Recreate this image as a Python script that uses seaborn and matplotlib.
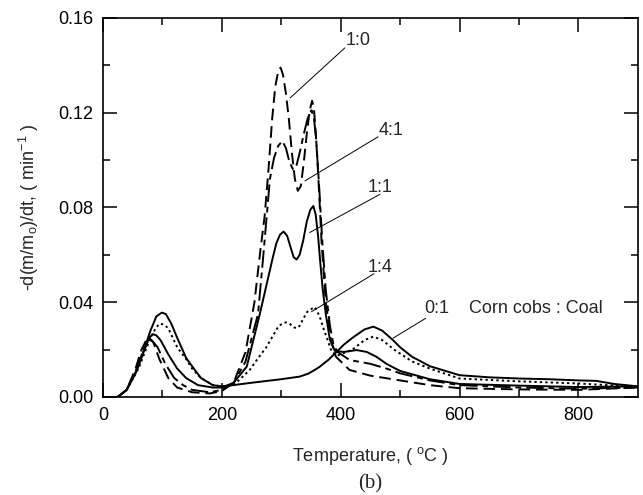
import numpy as np
import pandas as pd
import matplotlib
matplotlib.use("Agg")
import matplotlib.pyplot as plt
import seaborn as sns

# ---- data ----
t_10 = [25, 40, 55, 65, 76, 85, 95, 110, 125, 150, 180, 200, 220, 240, 255, 265, 272,
        278, 285, 290, 295, 299, 303, 308, 313, 318, 323, 328, 333, 338, 343, 348,
        352, 355, 358, 362, 368, 375, 383, 392, 415, 450, 500, 550, 600, 700, 800, 900]
v_10 = [0.0, 0.003, 0.012, 0.020, 0.0255, 0.023, 0.016, 0.008, 0.004, 0.002, 0.0015,
        0.0025, 0.006, 0.019, 0.040, 0.062, 0.076, 0.094, 0.118, 0.131, 0.1375, 0.139,
        0.136, 0.128, 0.117, 0.103, 0.092, 0.087, 0.089, 0.099, 0.111, 0.121, 0.125,
        0.122, 0.112, 0.095, 0.065, 0.040, 0.025, 0.017, 0.0114, 0.009, 0.007, 0.005,
        0.0037, 0.0032, 0.003, 0.004]

t_41 = [25, 40, 55, 70, 82, 92, 105, 120, 135, 150, 180, 200, 220, 240, 261, 270,
        281, 288, 295, 302, 308, 314, 320, 326, 332, 338, 345, 351, 355, 359, 364,
        369, 375, 382, 388, 395, 415, 450, 477, 500, 550, 600, 700, 800, 900]
v_41 = [0.0, 0.003, 0.011, 0.021, 0.024, 0.021, 0.014, 0.008, 0.005, 0.003, 0.002,
        0.003, 0.006, 0.015, 0.035, 0.060, 0.092, 0.101, 0.106, 0.108, 0.105, 0.099,
        0.096, 0.098, 0.104, 0.111, 0.118, 0.121, 0.118, 0.108, 0.088, 0.066, 0.045,
        0.030, 0.022, 0.019, 0.0156, 0.014, 0.012, 0.010, 0.007, 0.005, 0.004,
        0.0035, 0.004]

t_11 = [25, 40, 55, 70, 78, 84, 90, 97, 110, 125, 140, 160, 185, 200, 220, 242, 264,
        286, 292, 298, 304, 310, 316, 321, 326, 331, 337, 343, 349, 354, 358, 362,
        366, 370, 375, 382, 390, 405, 427, 444, 460, 477, 500, 550, 600, 700, 800, 900]
v_11 = [0.0, 0.003, 0.010, 0.020, 0.025, 0.0265, 0.026, 0.024, 0.018, 0.012, 0.008,
        0.005, 0.004, 0.004, 0.006, 0.0128, 0.035, 0.059, 0.065, 0.0685, 0.0698,
        0.068, 0.063, 0.059, 0.058, 0.060, 0.066, 0.074, 0.079, 0.0806, 0.077, 0.068,
        0.056, 0.045, 0.035, 0.024, 0.0195, 0.019, 0.0198, 0.019, 0.017, 0.014,
        0.011, 0.0075, 0.0055, 0.0048, 0.0042, 0.0045]

t_14 = [25, 40, 60, 80, 90, 96, 103, 110, 125, 140, 150, 165, 185, 200, 220, 247, 260,
        275, 295, 302, 308, 314, 320, 326, 331, 337, 344, 350, 356, 361, 366, 371,
        376, 385, 395, 420, 440, 455, 470, 490, 520, 550, 600, 700, 800, 850, 900]
v_14 = [0.0, 0.003, 0.012, 0.025, 0.0295, 0.031, 0.0305, 0.029, 0.021, 0.016, 0.012,
        0.008, 0.005, 0.0045, 0.005, 0.0114, 0.016, 0.021, 0.0297, 0.031, 0.0315,
        0.031, 0.0295, 0.029, 0.030, 0.033, 0.036, 0.037, 0.038, 0.036, 0.033, 0.029,
        0.0255, 0.019, 0.0175, 0.020, 0.024, 0.0255, 0.024, 0.020, 0.015, 0.012,
        0.0078, 0.0066, 0.0057, 0.005, 0.0045]

t_01 = [25, 40, 60, 80, 90, 99, 106, 115, 125, 140, 150, 165, 185, 200, 219, 250, 300,
        331, 345, 355, 365, 380, 393, 405, 420, 440, 455, 470, 488, 500, 520, 550,
        600, 650, 700, 750, 800, 830, 860, 900]
v_01 = [0.0, 0.003, 0.013, 0.028, 0.034, 0.0356, 0.035, 0.031, 0.025, 0.0165, 0.013,
        0.008, 0.005, 0.0045, 0.005, 0.006, 0.0075, 0.0086, 0.0098, 0.0112, 0.0128,
        0.0158, 0.019, 0.022, 0.025, 0.0285, 0.0297, 0.028, 0.024, 0.021, 0.017,
        0.013, 0.0092, 0.0083, 0.0078, 0.0075, 0.0070, 0.0068, 0.0055, 0.0045]

series_names = ["1:0", "4:1", "1:1", "1:4", "0:1"]
series_t = [t_10, t_41, t_11, t_14, t_01]
series_v = [v_10, v_41, v_11, v_14, v_01]

x_ticks = [0, 200, 400, 600, 800]
y_ticks = [0.00, 0.04, 0.08, 0.12, 0.16]
y_ticklabels = ["0.00", "0.04", "0.08", "0.12", "0.16"]

# ---- style ----
sns.set_style("ticks")
plt.rcParams["font.family"] = ["Liberation Sans", "DejaVu Sans"]
plt.rcParams["mathtext.fontset"] = "custom"
plt.rcParams["mathtext.rm"] = "Liberation Sans"
plt.rcParams["mathtext.it"] = "Liberation Sans"
plt.rcParams["mathtext.default"] = "regular"

fig = plt.figure(figsize=(6.43, 4.95), dpi=100)
ax = fig.add_axes([0.160, 0.198, 0.832, 0.766])

styles = {
    "1:0": dict(dashes=(6, 3), lw=1.4),
    "4:1": dict(dashes=(9, 2.5, 3, 2.5), lw=1.4),
    "1:1": dict(dashes=None, lw=1.4),
    "1:4": dict(dashes=(1.2, 1.6), lw=1.4),
    "0:1": dict(dashes=None, lw=1.4),
}

for name, t, v in zip(series_names, series_t, series_v):
    df = pd.DataFrame({"T": t, "v": v})
    st = styles[name]
    sns.lineplot(data=df, x="T", y="v", ax=ax, color="black",
                 lw=st["lw"], sort=False, estimator=None)
    l = ax.get_lines()[-1]
    l.set_solid_joinstyle("round")
    l.set_dash_joinstyle("round")
    if st["dashes"] is not None:
        l.set_dashes(st["dashes"])

ax.set_xlim(0, 900)
ax.set_ylim(0, 0.16)
ax.set_xticks(x_ticks)
ax.set_xticks(np.arange(100, 900, 200), minor=True)
ax.set_yticks(y_ticks)
ax.set_yticklabels(y_ticklabels)
ax.set_yticks(np.arange(0.02, 0.16, 0.04), minor=True)
ax.tick_params(which="both", direction="in", top=True, right=True,
               labelsize=13, width=1.1, colors="black")
ax.tick_params(which="major", length=10, pad=7)
ax.tick_params(which="minor", length=5)
for s in ax.spines.values():
    s.set_linewidth(1.2)
    s.set_color("black")

ax.set_xlabel("Temperature, ( $^{o}$C )", fontsize=13, labelpad=15)
ax.set_ylabel("-d(m/m$_{o}$)/dt, ( min$^{-1}$ )", fontsize=13, labelpad=12)

# annotations
ann = [
    ("1:0", (315, 0.1262), (407, 0.1473), (430, 0.1505)),
    ("4:1", (340, 0.0912), (463, 0.1098), (485, 0.1125)),
    ("1:1", (348, 0.0694), (466, 0.0855), (466, 0.0886)),
    ("1:4", (351, 0.0360), (456, 0.0520), (466, 0.0548)),
    ("0:1", (488, 0.0248), (543, 0.0332), (562, 0.0372)),
]
for label, p0, p1, ptxt in ann:
    ax.plot([p0[0], p1[0]], [p0[1], p1[1]], color="black", lw=0.7)
    ax.text(ptxt[0], ptxt[1], label, fontsize=13, ha="center", va="center")

ax.text(728, 0.0372, "Corn cobs : Coal", fontsize=13, ha="center", va="center")

fig.text(0.576, 0.022, "(b)", fontsize=15, ha="center", va="center",
         family=["Liberation Serif", "DejaVu Serif"])

fig.savefig("out.png", dpi=100, facecolor="white")
